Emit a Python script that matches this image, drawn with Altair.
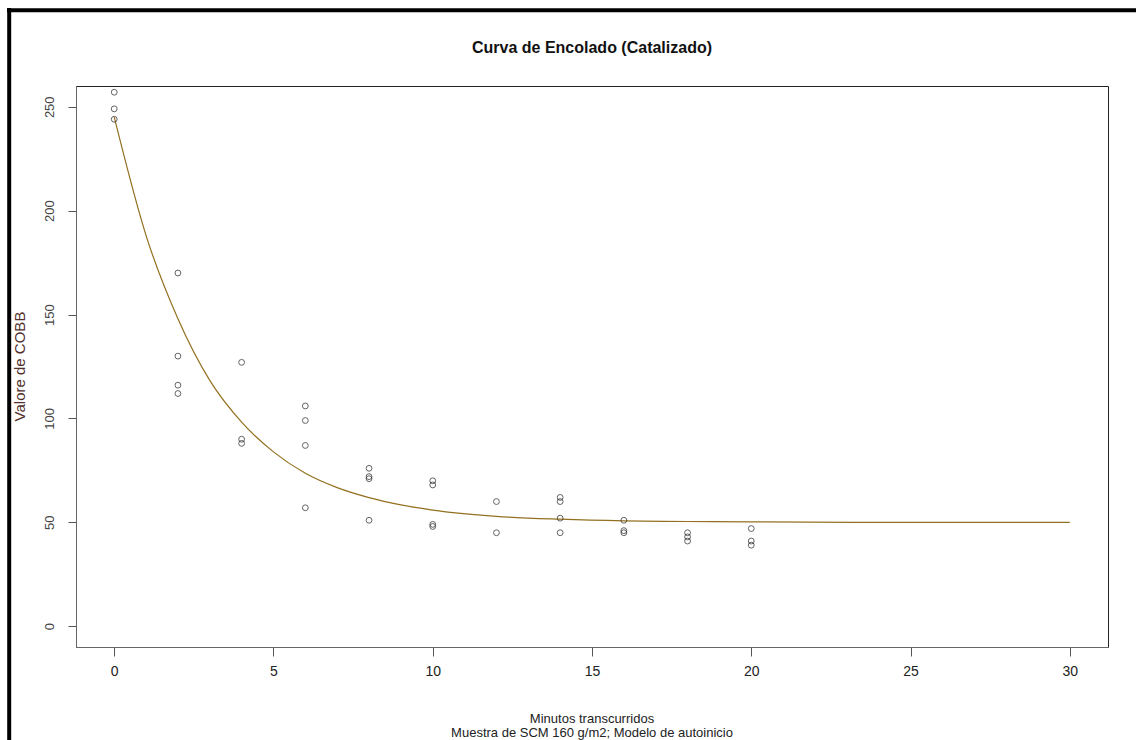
import altair as alt
import pandas as pd

# Observed COBB values by elapsed minutes
minutes = [0, 0, 0,
           2, 2, 2, 2,
           4, 4, 4,
           6, 6, 6, 6,
           8, 8, 8, 8,
           10, 10, 10, 10,
           12, 12,
           14, 14, 14, 14,
           16, 16, 16,
           18, 18, 18,
           20, 20, 20]
cobb = [257, 249, 244,
        170, 130, 116, 112,
        127, 90, 88,
        106, 99, 87, 57,
        76, 72, 71, 51,
        70, 68, 49, 48,
        60, 45,
        62, 60, 52, 45,
        51, 46, 45,
        45, 43, 41,
        47, 41, 39]

# Fitted self-starting asymptotic curve, sampled along the time axis
curve_t = [0, 1, 2, 3, 4, 5, 6, 7, 8, 9, 10, 12, 14, 16, 18, 20, 25, 30]
curve_y = [245, 188, 148, 118.3, 98.2, 83.9, 73.6, 66.7, 61.9, 58.4, 55.9,
           52.9, 51.5, 50.7, 50.4, 50.2, 50.0, 50.0]

title = "Curva de Encolado (Catalizado)"
x_title = ["Minutos transcurridos", "Muestra de SCM 160 g/m2; Modelo de autoinicio"]
y_title = "Valore de COBB"
x_ticks = [0, 5, 10, 15, 20, 25, 30]
y_ticks = [0, 50, 100, 150, 200, 250]

W, H = 1032, 561
SANS = "Liberation Sans, Arial"

pts = pd.DataFrame({"t": minutes, "v": cobb})
fit = pd.DataFrame({"t": curve_t, "v": curve_y})

xscale = alt.Scale(domain=[-1.2, 31.2], nice=False, zero=False)
yscale = alt.Scale(domain=[-10, 260], nice=False, zero=False)

xaxis = alt.Axis(values=x_ticks, title=None, grid=False, labelFont=SANS,
                 labelFontSize=14, labelColor="#222", labelPadding=8,
                 tickSize=9, tickColor="#555", domainColor="#666",
                 labelFlush=False)
yaxis = alt.Axis(values=y_ticks, title=None, grid=False, labelFont=SANS,
                 labelFontSize=13, labelColor="#444", labelAngle=-90,
                 labelAlign="center", labelBaseline="bottom", labelPadding=12,
                 tickSize=8, tickColor="#555", domainColor="#666",
                 labelFlush=False)

points = alt.Chart(pts).mark_point(
    shape="circle", filled=False, size=34, stroke="#222", strokeWidth=1
).encode(
    x=alt.X("t:Q", scale=xscale, axis=xaxis),
    y=alt.Y("v:Q", scale=yscale, axis=yaxis),
)

line = alt.Chart(fit).mark_line(
    color="#93701f", strokeWidth=1.2, interpolate="monotone"
).encode(x=alt.X("t:Q", scale=xscale), y=alt.Y("v:Q", scale=yscale))

title_mark = alt.Chart(pd.DataFrame({"s": [title]})).mark_text(
    font=SANS, fontSize=16, fontWeight="bold", color="#111",
    align="center", baseline="alphabetic"
).encode(text="s:N", x=alt.value(W / 2), y=alt.value(-33))

xt1 = alt.Chart(pd.DataFrame({"s": [x_title[0]]})).mark_text(
    font=SANS, fontSize=13, color="#222", align="center", baseline="alphabetic"
).encode(text="s:N", x=alt.value(W / 2), y=alt.value(637))

xt2 = alt.Chart(pd.DataFrame({"s": [x_title[1]]})).mark_text(
    font=SANS, fontSize=13, color="#222", align="center", baseline="alphabetic"
).encode(text="s:N", x=alt.value(W / 2), y=alt.value(651))

yt = alt.Chart(pd.DataFrame({"s": [y_title]})).mark_text(
    font=SANS, fontSize=15, color="#52302c", align="center",
    baseline="alphabetic", angle=270
).encode(text="s:N", x=alt.value(-51), y=alt.value(H / 2))

# Heavy black frame along the top and left edges of the page
frame_top = alt.Chart(pd.DataFrame({"k": [0]})).mark_rule(
    color="black", strokeWidth=4
).encode(x=alt.value(-69), x2=alt.value(1060), y=alt.value(-75.7))
frame_left = alt.Chart(pd.DataFrame({"k": [0]})).mark_rule(
    color="black", strokeWidth=4
).encode(x=alt.value(-66.8), y=alt.value(-78), y2=alt.value(660))

chart = alt.layer(
    line, points, title_mark, xt1, xt2, yt, frame_top, frame_left
).properties(
    width=W, height=H,
    autosize=alt.AutoSizeParams(type="none"),
    padding={"left": 76, "top": 86, "right": 28, "bottom": 93},
    background="white",
).configure_view(
    stroke="#222", strokeWidth=1
)

chart.save("out.html", embed_options={"renderer": "svg", "actions": False})
